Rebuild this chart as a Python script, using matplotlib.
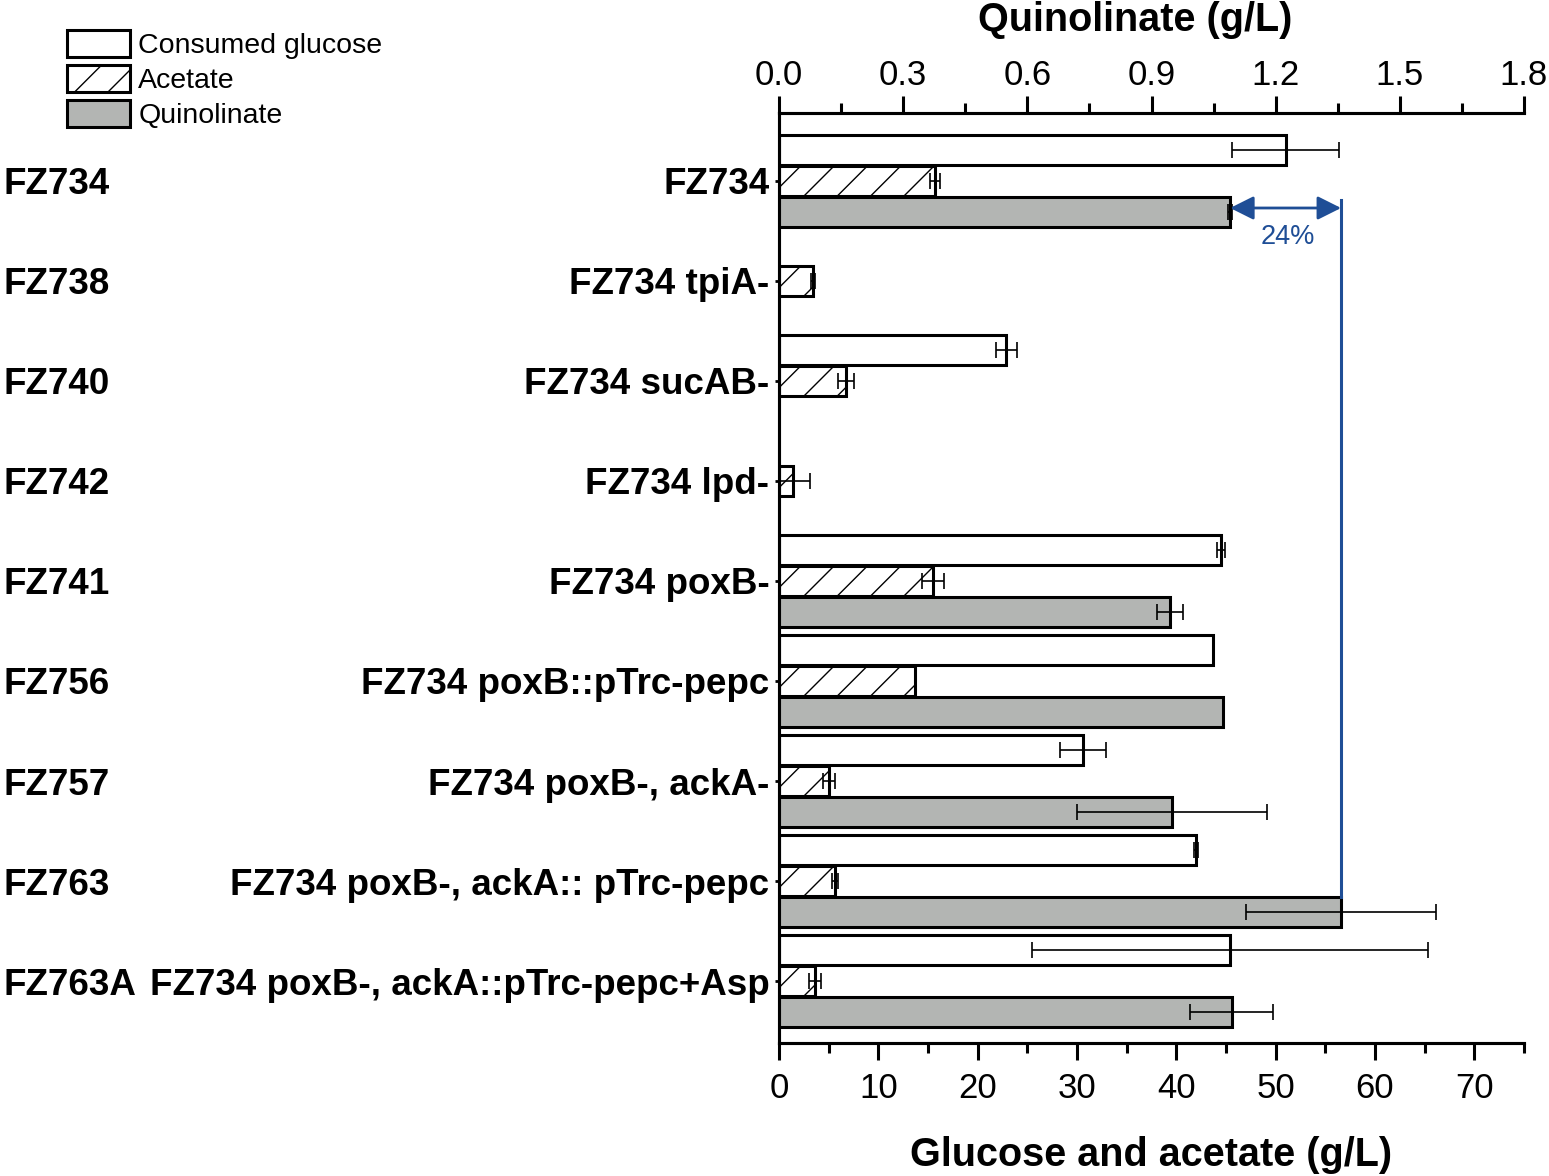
import numpy as np
import matplotlib
matplotlib.use("Agg")
import matplotlib.pyplot as plt
from matplotlib.patches import Patch
from matplotlib.ticker import MultipleLocator, FormatStrFormatter
from matplotlib.transforms import blended_transform_factory

# --- Data ---
strains = ["FZ734", "FZ738", "FZ740", "FZ742", "FZ741", "FZ756", "FZ757", "FZ763", "FZ763A"]
genotypes = ["FZ734", "FZ734 tpiA-", "FZ734 sucAB-", "FZ734 lpd-", "FZ734 poxB-",
             "FZ734 poxB::pTrc-pepc", "FZ734 poxB-, ackA-", "FZ734 poxB-, ackA:: pTrc-pepc",
             "FZ734 poxB-, ackA::pTrc-pepc+Asp"]
glucose = [51.0, np.nan, 22.9, np.nan, 44.5, 43.7, 30.6, 42.0, 45.4]
glucose_err = [5.4, 0, 1.1, 0, 0.4, 0, 2.3, 0.2, 19.9]
acetate = [15.7, 3.4, 6.7, 1.4, 15.5, 13.7, 5.0, 5.6, 3.6]
acetate_err = [0.5, 0.2, 0.8, 1.7, 1.1, 0, 0.6, 0.3, 0.6]
quinolinate = [1.09, np.nan, np.nan, np.nan, 0.945, 1.073, 0.95, 1.358, 1.094]
quinolinate_err = [0.005, 0, 0, 0, 0.031, 0, 0.23, 0.23, 0.10]

blue = "#1f4e96"
grey = "#b3b5b3"
plt.rcParams['font.family'] = ['Liberation Sans', 'DejaVu Sans']
plt.rcParams['hatch.linewidth'] = 1.0

fig = plt.figure(figsize=(15.49, 11.76), dpi=100)
ax = fig.add_axes([779 / 1549, 1 - 1043 / 1176, 745 / 1549, 930 / 1176])
ax2 = ax.twiny()

y = np.arange(len(strains))
h = 0.3
off = 0.31
ekw = dict(ecolor="black", elinewidth=1.2, capsize=6, capthick=1.2, fmt="none")

g = np.array(glucose)
m = ~np.isnan(g)
ax.barh(y[m] - off, g[m], height=h, color="white", edgecolor="black", linewidth=2.2)
ax.errorbar(g[m], y[m] - off, xerr=np.array(glucose_err)[m], **ekw)

ax.barh(y, acetate, height=h, color="white", edgecolor="black", linewidth=2.2, hatch="/")
ax.errorbar(acetate, y, xerr=acetate_err, **ekw)

q = np.array(quinolinate)
mq = ~np.isnan(q)
ax2.barh(y[mq] + off, q[mq], height=h, color=grey, edgecolor="black", linewidth=2.2)
ax2.errorbar(q[mq], y[mq] + off, xerr=np.array(quinolinate_err)[mq], **ekw)

# axes setup
ax.set_xlim(0, 75)
ax2.set_xlim(0, 1.8)
ax.set_ylim(8.62, -0.68)
for a in (ax, ax2):
    a.spines["right"].set_visible(False)
    for s in a.spines.values():
        s.set_linewidth(2.2)

ax.xaxis.set_major_locator(MultipleLocator(10))
ax.xaxis.set_minor_locator(MultipleLocator(5))
ax.tick_params(axis="x", which="major", length=12, width=2.2, labelsize=25, pad=9)
ax.tick_params(axis="x", which="minor", length=7, width=2.2)

ax2.xaxis.set_major_locator(MultipleLocator(0.3))
ax2.xaxis.set_minor_locator(MultipleLocator(0.15))
ax2.xaxis.set_major_formatter(FormatStrFormatter("%.1f"))
ax2.tick_params(axis="x", which="major", length=12, width=2.2, labelsize=25, pad=3)
ax2.tick_params(axis="x", which="minor", length=7, width=2.2)

ax.set_yticks(y)
ax.set_yticklabels(genotypes, fontsize=26.5, fontweight="bold")
ax.tick_params(axis="y", length=3, width=2, pad=4)

ax.set_xlabel("Glucose and acetate (g/L)", fontsize=28.5, fontweight="bold")
ax.xaxis.set_label_coords(0.50, -0.1)
ax2.set_xlabel("Quinolinate (g/L)", fontsize=28.5, fontweight="bold")
ax2.xaxis.set_label_coords(0.478, 1.088)

# strain codes on the far left
tr = blended_transform_factory(fig.transFigure, ax.transData)
for yi, s in zip(y, strains):
    ax.text(3 / 1549, yi, s, transform=tr, fontsize=26.5, fontweight="bold",
            va="center_baseline", ha="left")

# 24% improvement marker
ax2.annotate("", xy=(quinolinate[0], 0.27), xytext=(quinolinate[7], 0.27),
             arrowprops=dict(arrowstyle="<|-|>", color=blue, lw=2, mutation_scale=36, shrinkA=0, shrinkB=0))
ax2.plot([quinolinate[7], quinolinate[7]], [0.19, 7.31 - h / 2], color=blue, lw=2.2)
ax2.text(1.23, 0.56, "24%", color=blue, fontsize=19.5, ha="center", va="center")

handles = [Patch(facecolor="white", edgecolor="black", linewidth=2.2, label="Consumed glucose"),
           Patch(facecolor="white", edgecolor="black", linewidth=2.2, hatch="/", label="Acetate"),
           Patch(facecolor=grey, edgecolor="black", linewidth=2.2, label="Quinolinate")]
fig.legend(handles=handles, loc="upper left", bbox_to_anchor=(67 / 1549, 1 - 30 / 1176),
           frameon=False, fontsize=20.5, handlelength=2.2, handleheight=1.1,
           handletextpad=0.3, labelspacing=0.2, borderpad=0, borderaxespad=0)

fig.savefig("out.png", dpi=100)
